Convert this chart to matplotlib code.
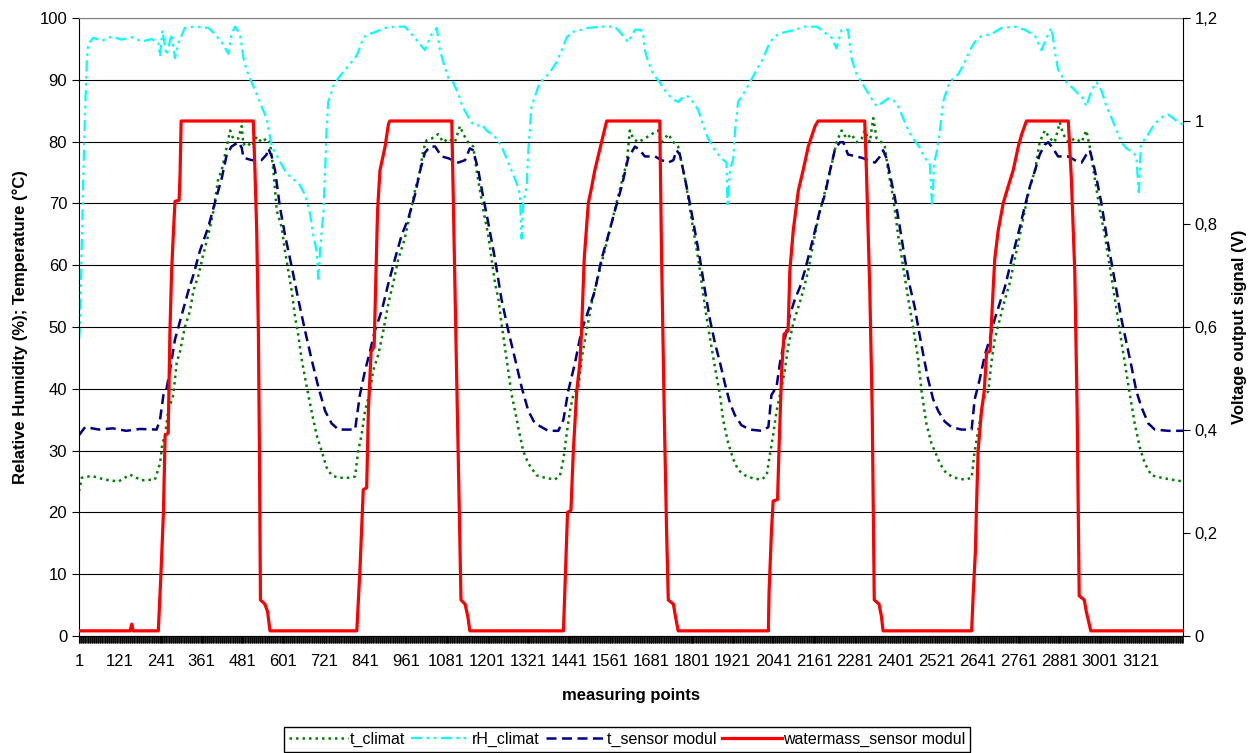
import numpy as np
import matplotlib.pyplot as plt
from matplotlib.ticker import MultipleLocator, FixedLocator, FuncFormatter

plt.rcParams['font.family'] = ['Liberation Sans', 'DejaVu Sans']

# x axis: measuring points, labelled every 120
n_last = 3244
x_ticklabels = list(range(1, 3122, 120))

# (measuring point, value)
t_climat = [
    (1, 23.4), (9, 25.6), (38, 25.9), (77, 25.3), (117, 25.0), (151, 26.1), (185, 25.2), (224, 25.3),
    (239, 27.9), (246, 31.2), (254, 32.5), (263, 36.4), (278, 39.0), (288, 44.2), (298, 46.1),
    (312, 50.0), (327, 52.6), (337, 55.8), (352, 58.4), (366, 61.7), (381, 64.9), (396, 68.8),
    (410, 74.0), (420, 75.3), (435, 79.2), (445, 81.8), (454, 80.5), (469, 80.5), (479, 82.5),
    (484, 79.5), (493, 79.9), (508, 79.2), (523, 80.8), (537, 79.9), (552, 80.5), (562, 79.9),
    (572, 75.3), (582, 68.8), (596, 66.2), (606, 62.3), (616, 59.1), (626, 55.8), (635, 51.9),
    (645, 48.7), (655, 44.8), (670, 40.3), (684, 36.4), (699, 32.5), (714, 29.9), (728, 27.3),
    (743, 26.0), (763, 25.6), (792, 25.6), (812, 25.8), (821, 29.9), (831, 32.5), (841, 36.4),
    (856, 39.6), (865, 42.9), (880, 45.5), (895, 49.4), (910, 53.9), (924, 57.1), (939, 61.0),
    (958, 64.3), (973, 68.2), (988, 72.1), (1003, 75.3), (1012, 78.6), (1022, 80.2), (1037, 80.5),
    (1056, 81.2), (1071, 79.9), (1086, 80.5), (1105, 79.9), (1120, 82.5), (1130, 81.2), (1144, 79.9),
    (1159, 79.2), (1169, 75.3), (1179, 72.1), (1189, 68.8), (1203, 64.9), (1213, 61.0), (1223, 57.1),
    (1233, 54.5), (1242, 50.6), (1252, 46.8), (1262, 42.9), (1272, 39.0), (1282, 36.4), (1291, 33.8),
    (1306, 29.9), (1321, 27.9), (1345, 26.0), (1370, 25.6), (1399, 25.3), (1414, 26.0), (1424, 28.6),
    (1433, 32.5), (1443, 36.4), (1453, 39.0), (1468, 40.3), (1477, 44.8), (1492, 49.4), (1507, 53.9),
    (1521, 57.1), (1536, 60.4), (1551, 63.6), (1566, 66.9), (1580, 70.1), (1595, 73.4), (1610, 76.6),
    (1619, 81.8), (1629, 80.5), (1644, 79.9), (1663, 80.5), (1683, 81.2), (1702, 81.8), (1712, 79.9),
    (1732, 81.2), (1747, 79.9), (1761, 79.2), (1771, 76.6), (1781, 74.0), (1791, 70.8), (1800, 67.5),
    (1810, 64.3), (1820, 61.0), (1830, 57.1), (1840, 53.2), (1849, 50.0), (1859, 46.8), (1869, 43.5),
    (1884, 39.0), (1893, 35.0), (1908, 31.2), (1923, 28.6), (1937, 26.9), (1957, 26.0), (1981, 25.5),
    (2006, 25.3), (2021, 26.0), (2030, 29.2), (2040, 32.5), (2050, 36.4), (2065, 40.3), (2074, 42.9),
    (2084, 46.8), (2099, 50.6), (2114, 53.2), (2128, 55.8), (2143, 59.1), (2158, 63.6), (2172, 67.5),
    (2187, 70.8), (2202, 74.0), (2216, 77.3), (2226, 79.9), (2241, 81.8), (2256, 80.5), (2270, 81.2),
    (2285, 79.9), (2300, 80.5), (2309, 81.8), (2324, 79.9), (2334, 83.8), (2344, 80.5), (2358, 79.9),
    (2368, 79.2), (2378, 75.3), (2393, 70.8), (2407, 64.9), (2422, 59.7), (2437, 54.5), (2451, 50.0),
    (2466, 44.8), (2476, 39.6), (2490, 34.4), (2505, 31.2), (2515, 29.9), (2530, 27.9), (2549, 26.3),
    (2574, 25.6), (2603, 25.3), (2623, 25.6), (2632, 29.9), (2642, 33.1), (2652, 36.4), (2662, 39.0),
    (2672, 39.6), (2681, 44.2), (2691, 48.0), (2706, 51.3), (2721, 54.5), (2735, 57.1), (2750, 61.0),
    (2765, 64.9), (2779, 68.8), (2794, 72.7), (2809, 75.3), (2823, 79.9), (2838, 81.8), (2853, 80.5),
    (2867, 79.9), (2882, 83.1), (2892, 81.2), (2907, 79.9), (2926, 80.5), (2946, 79.9), (2960, 81.8),
    (2970, 79.2), (2985, 74.0), (3000, 68.8), (3014, 64.9), (3029, 59.7), (3044, 54.5), (3058, 49.4),
    (3073, 44.2), (3088, 39.0), (3102, 34.4), (3117, 30.5), (3132, 27.9), (3151, 26.0), (3181, 25.6),
    (3210, 25.3), (3244, 25.0),
]

rH_climat = [
    (1, 48.0), (4, 50.0), (9, 62.3), (14, 75.3), (19, 85.1), (24, 92.9), (28, 95.8), (43, 96.8),
    (68, 96.3), (97, 97.0), (126, 96.5), (156, 96.9), (185, 96.2), (214, 96.6), (234, 96.0),
    (239, 93.8), (246, 98.0), (258, 94.0), (273, 97.4), (283, 93.5), (293, 96.0), (312, 98.4),
    (342, 98.6), (381, 98.4), (400, 97.4), (420, 96.1), (440, 94.2), (449, 97.4), (459, 98.6),
    (474, 97.4), (484, 93.5), (493, 91.6), (508, 89.6), (523, 87.7), (537, 85.7), (552, 83.8),
    (567, 79.2), (586, 77.3), (606, 75.3), (626, 74.0), (645, 73.4), (665, 71.4), (680, 68.2),
    (689, 64.9), (699, 62.3), (704, 57.8), (709, 62.3), (719, 68.8), (724, 75.3), (728, 81.8),
    (733, 86.4), (748, 89.0), (763, 90.3), (782, 91.6), (802, 92.9), (812, 93.5), (821, 94.5),
    (836, 96.8), (851, 97.4), (870, 97.7), (900, 98.4), (929, 98.6), (958, 98.6), (978, 97.4),
    (998, 96.1), (1017, 94.8), (1037, 97.4), (1052, 98.4), (1061, 94.8), (1071, 92.9), (1086, 90.3),
    (1100, 89.6), (1115, 87.7), (1125, 86.0), (1140, 84.4), (1154, 83.1), (1169, 82.5), (1184, 82.8),
    (1198, 81.8), (1213, 81.2), (1228, 80.5), (1242, 79.2), (1257, 77.3), (1272, 75.3), (1286, 73.4),
    (1296, 71.4), (1301, 64.3), (1306, 70.1), (1316, 72.7), (1321, 78.6), (1326, 82.5), (1330, 85.7),
    (1340, 87.3), (1355, 89.6), (1370, 90.3), (1389, 91.6), (1404, 92.9), (1419, 94.8), (1433, 96.8),
    (1448, 97.7), (1477, 98.1), (1497, 98.4), (1536, 98.6), (1575, 98.6), (1595, 97.4), (1614, 96.1),
    (1634, 98.1), (1649, 98.1), (1658, 97.7), (1663, 94.8), (1673, 92.9), (1688, 90.9), (1707, 89.6),
    (1722, 88.3), (1742, 87.0), (1761, 86.4), (1776, 87.3), (1791, 87.3), (1805, 86.4), (1820, 85.1),
    (1835, 82.5), (1849, 80.5), (1869, 78.6), (1888, 77.3), (1903, 76.6), (1906, 69.5), (1913, 75.3),
    (1923, 77.3), (1928, 81.8), (1937, 86.4), (1952, 87.7), (1972, 89.6), (1991, 91.6), (2011, 93.5),
    (2026, 95.5), (2040, 96.8), (2055, 97.4), (2074, 97.7), (2104, 98.1), (2133, 98.6), (2167, 98.6),
    (2182, 98.1), (2197, 97.4), (2212, 96.8), (2226, 95.1), (2241, 98.1), (2260, 98.1), (2270, 93.5),
    (2285, 90.9), (2300, 89.6), (2314, 88.3), (2329, 87.0), (2344, 85.7), (2363, 86.4), (2378, 87.0),
    (2393, 86.7), (2407, 85.7), (2422, 83.8), (2437, 81.8), (2451, 80.5), (2471, 79.0), (2486, 77.3),
    (2500, 76.6), (2507, 69.5), (2513, 76.6), (2520, 78.2), (2530, 81.8), (2539, 86.4), (2554, 89.0),
    (2569, 90.3), (2584, 90.9), (2603, 92.9), (2618, 94.8), (2632, 96.1), (2652, 97.1), (2681, 97.4),
    (2711, 98.4), (2750, 98.6), (2779, 98.1), (2809, 97.1), (2828, 94.8), (2843, 96.8), (2858, 98.4),
    (2867, 94.8), (2877, 91.6), (2892, 90.3), (2907, 89.3), (2921, 88.6), (2936, 87.7), (2951, 87.0),
    (2960, 85.7), (2975, 88.3), (2990, 89.6), (3004, 88.3), (3019, 85.7), (3034, 83.8), (3049, 81.8),
    (3063, 79.9), (3078, 78.9), (3098, 78.2), (3107, 77.6), (3114, 71.4), (3120, 79.2), (3132, 80.5),
    (3142, 81.2), (3156, 82.5), (3171, 83.4), (3186, 84.1), (3200, 84.4), (3215, 83.8), (3230, 83.1),
    (3244, 82.8),
]

t_sensor = [
    (1, 32.5), (19, 33.8), (60, 33.4), (100, 33.6), (140, 33.2), (180, 33.5), (229, 33.4),
    (239, 35.0), (249, 39.0), (258, 40.0), (268, 42.9), (283, 48.0), (303, 52.0), (322, 55.8),
    (337, 58.4), (356, 62.3), (381, 66.2), (400, 70.1), (420, 74.0), (435, 77.9), (449, 79.2),
    (469, 79.9), (479, 79.0), (484, 77.4), (508, 77.0), (537, 77.0), (552, 77.9), (557, 78.9),
    (567, 77.6), (577, 75.3), (591, 69.5), (606, 64.9), (626, 59.7), (645, 54.5), (665, 49.4),
    (684, 44.8), (704, 40.3), (724, 36.4), (743, 34.4), (763, 33.4), (812, 33.4), (826, 39.0),
    (841, 42.9), (856, 46.1), (870, 49.4), (890, 52.6), (910, 57.1), (929, 61.0), (949, 64.9),
    (968, 67.5), (988, 71.4), (1003, 75.3), (1017, 78.2), (1032, 79.2), (1047, 79.2), (1066, 77.6),
    (1086, 77.3), (1115, 76.6), (1135, 77.0), (1149, 78.9), (1159, 78.6), (1174, 75.3), (1189, 70.8),
    (1203, 66.9), (1223, 61.0), (1242, 54.5), (1262, 49.4), (1282, 44.8), (1301, 40.3), (1321, 36.4),
    (1340, 34.4), (1360, 33.8), (1379, 33.2), (1409, 33.2), (1424, 35.0), (1438, 39.6), (1458, 44.2),
    (1477, 49.4), (1497, 52.6), (1516, 55.8), (1536, 61.0), (1556, 64.9), (1575, 68.8), (1595, 72.7),
    (1614, 77.3), (1634, 79.2), (1649, 78.6), (1663, 77.6), (1693, 77.6), (1712, 77.0), (1732, 76.6),
    (1747, 77.0), (1756, 78.6), (1766, 77.9), (1781, 74.0), (1795, 70.1), (1810, 65.6), (1825, 61.0),
    (1840, 55.8), (1854, 51.3), (1869, 47.4), (1884, 44.2), (1898, 40.9), (1913, 37.7), (1928, 35.7),
    (1947, 34.1), (1972, 33.4), (2006, 33.2), (2026, 33.8), (2035, 39.0), (2050, 40.3), (2060, 44.2),
    (2074, 48.0), (2089, 51.9), (2104, 54.5), (2119, 56.5), (2133, 59.1), (2148, 62.3), (2163, 65.6),
    (2177, 68.8), (2192, 71.4), (2207, 75.3), (2221, 78.6), (2236, 79.9), (2246, 79.9), (2260, 77.9),
    (2285, 77.6), (2305, 77.3), (2319, 77.0), (2339, 76.6), (2354, 77.6), (2363, 78.6), (2373, 77.3),
    (2383, 74.7), (2398, 70.8), (2412, 66.2), (2427, 61.0), (2442, 56.5), (2456, 53.2), (2466, 50.0),
    (2481, 45.5), (2495, 41.6), (2510, 38.3), (2525, 36.4), (2544, 34.7), (2564, 33.8), (2593, 33.4),
    (2623, 33.4), (2632, 38.3), (2647, 41.6), (2662, 45.5), (2676, 48.0), (2691, 51.3), (2706, 53.9),
    (2721, 56.5), (2735, 59.7), (2750, 63.0), (2765, 66.2), (2779, 69.5), (2794, 72.7), (2809, 75.3),
    (2823, 77.9), (2838, 79.5), (2848, 79.9), (2862, 78.9), (2877, 77.6), (2907, 77.6), (2926, 77.0),
    (2946, 76.6), (2960, 77.9), (2970, 78.6), (2980, 76.6), (2990, 74.0), (3004, 70.1), (3019, 64.9),
    (3034, 60.4), (3049, 55.8), (3063, 51.3), (3078, 47.4), (3093, 43.5), (3107, 39.6), (3122, 37.0),
    (3142, 34.4), (3161, 33.4), (3200, 33.2), (3244, 33.2),
]

# watermass sensor output in volts (right axis)
watermass = [
    (1, 0.01), (151, 0.01), (156, 0.023), (160, 0.01), (234, 0.01), (242, 0.125), (249, 0.24),
    (254, 0.39), (263, 0.394), (268, 0.588), (273, 0.708), (278, 0.78), (283, 0.844), (295, 0.846),
    (298, 0.9), (301, 1.0), (513, 1.0), (518, 0.9), (523, 0.787), (528, 0.588), (531, 0.36),
    (534, 0.07), (547, 0.062), (555, 0.047), (562, 0.01),
    (817, 0.01), (826, 0.125), (836, 0.284), (846, 0.288), (851, 0.437), (859, 0.552), (868, 0.562),
    (872, 0.67), (878, 0.826), (885, 0.904), (900, 0.95), (910, 0.994), (914, 1.0), (1096, 1.0),
    (1100, 0.864), (1110, 0.515), (1117, 0.281), (1123, 0.07), (1135, 0.062), (1143, 0.038),
    (1149, 0.01),
    (1424, 0.01), (1428, 0.085), (1436, 0.24), (1446, 0.244), (1453, 0.359), (1463, 0.475),
    (1472, 0.528), (1477, 0.588), (1485, 0.732), (1497, 0.84), (1507, 0.872), (1516, 0.904),
    (1536, 0.959), (1551, 1.0), (1707, 1.0), (1712, 0.748), (1720, 0.437), (1727, 0.203),
    (1732, 0.07), (1747, 0.062), (1753, 0.038), (1761, 0.01),
    (2026, 0.01), (2028, 0.085), (2035, 0.203), (2040, 0.262), (2053, 0.265), (2057, 0.359),
    (2065, 0.515), (2072, 0.586), (2084, 0.593), (2089, 0.709), (2099, 0.787), (2114, 0.865),
    (2128, 0.904), (2143, 0.95), (2163, 0.99), (2172, 1.0), (2309, 1.0), (2314, 0.904),
    (2324, 0.67), (2331, 0.437), (2337, 0.07), (2351, 0.062), (2358, 0.038), (2363, 0.01),
    (2623, 0.01), (2628, 0.085), (2634, 0.163), (2637, 0.241), (2642, 0.359), (2652, 0.437),
    (2660, 0.475), (2667, 0.55), (2677, 0.553), (2686, 0.67), (2691, 0.732), (2701, 0.787),
    (2716, 0.841), (2730, 0.872), (2745, 0.904), (2760, 0.95), (2770, 0.974), (2784, 1.0),
    (2907, 1.0), (2916, 0.888), (2926, 0.708), (2933, 0.437), (2939, 0.078), (2954, 0.07),
    (2960, 0.047), (2973, 0.01), (3244, 0.01),
]

fig = plt.figure(figsize=(12.54, 7.53), dpi=100)
ax = fig.add_axes([0.063, 0.1554, 0.8804, 0.8207])
ax2 = ax.twinx()

tc = np.array(t_climat)
rh = np.array(rH_climat)
ts = np.array(t_sensor)
wm = np.array(watermass)

l1, = ax.plot(tc[:, 0], tc[:, 1], color='#008000', lw=1.8, linestyle=(0, (1, 1.6)))
l2, = ax.plot(rh[:, 0], rh[:, 1], color='#00FFFF', lw=1.6, linestyle=(0, (5, 2, 1.2, 2, 1.2, 2)))
l3, = ax.plot(ts[:, 0], ts[:, 1], color='#000080', lw=1.8, linestyle=(0, (4, 2.2)))
l4, = ax2.plot(wm[:, 0], wm[:, 1], color='#FF0000', lw=2.3)

ax.set_xlim(1, n_last)
ax.set_ylim(0, 100)
ax2.set_ylim(0, 1.2)

ax.yaxis.set_major_locator(MultipleLocator(10))
ax.yaxis.grid(True, color='black', lw=0.8)
ax.set_axisbelow(True)

ax.xaxis.set_major_locator(FixedLocator(x_ticklabels))
ax.xaxis.set_minor_locator(MultipleLocator(2))
ax.tick_params(axis='x', which='major', length=5, width=0.8, labelsize=12, pad=8)
ax.tick_params(axis='x', which='minor', length=5, width=0.6)
ax.tick_params(axis='y', length=5, width=0.8, labelsize=12)

ax2.yaxis.set_major_locator(MultipleLocator(0.2))
ax2.yaxis.set_major_formatter(FuncFormatter(lambda v, p: ('%g' % round(v, 1)).replace('.', ',')))
ax2.tick_params(axis='y', length=5, width=0.8, labelsize=12)

ax.spines['top'].set_color('#808080')
ax.spines['right'].set_visible(False)
for s in ['top', 'left', 'bottom']:
    ax2.spines[s].set_visible(False)

ax.set_xlabel('measuring points', fontsize=12, fontweight='bold', labelpad=14)
ax.set_ylabel('Relative Humidity (%); Temperature (°C)', fontsize=12, fontweight='bold', labelpad=8)
ax2.set_ylabel('Voltage output signal (V)', fontsize=12, fontweight='bold', labelpad=10)

fig.legend([l1, l2, l3, l4], ['t_climat', 'rH_climat', 't_sensor modul', 'watermass_sensor modul'],
           loc='lower center', bbox_to_anchor=(0.5, -0.009), ncol=4, fontsize=11.5,
           frameon=True, fancybox=False, edgecolor='black', framealpha=1,
           handlelength=3.7, handletextpad=0.1, columnspacing=0.4, borderpad=0.3)

fig.savefig('out.png', dpi=100)
